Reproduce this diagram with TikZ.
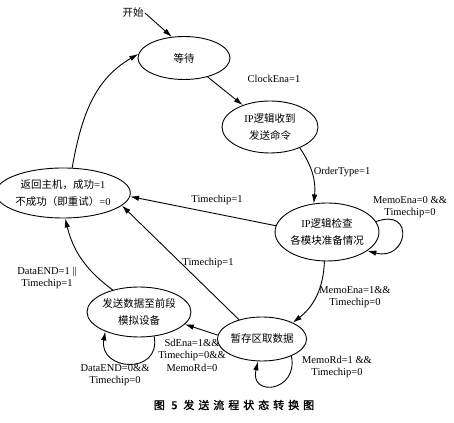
\documentclass[tikz,border=0pt]{standalone}
\usepackage{fontspec}
\setmainfont{Liberation Serif}
\newfontfamily\cjk{Noto Sans CJK SC}
\newfontfamily\cjkcap[LetterSpace=36,FakeBold=1.5]{Noto Sans CJK SC}
\usetikzlibrary{arrows.meta,shapes.geometric}

\begin{document}
\begin{tikzpicture}[x=1pt, y=1pt, line width=0.9pt,
    state/.style={draw, ellipse, inner sep=0pt, align=center,
        font=\cjk\fontsize{10.5}{17}\selectfont},
    lab/.style={align=center, inner sep=1pt, font=\fontsize{10.5}{12.5}\selectfont},
    trans/.style={-{Latex[length=9pt,width=5.5pt]}}]
    \useasboundingbox (0,0) rectangle (454,422);

    % States
    \node[state, minimum width=92, minimum height=43] (wait) at (184,364) {等待};
    \node[state, minimum width=96, minimum height=52] (recv) at (270,295)
        {\textrm{IP}逻辑收到\\发送命令};
    \node[state, minimum width=114, minimum height=50] (ret) at (63,229)
        {返回主机，成功\textrm{=1}\\不成功（即重试）\textrm{=0}};
    \node[state, minimum width=94, minimum height=58] (check) at (327,190)
        {\textrm{IP}逻辑检查\\各模块准备情况};
    \node[state, minimum width=84, minimum height=44] (buf) at (262,83) {暂存区取数据};
    \node[state, minimum width=94, minimum height=50] (send) at (139,110)
        {发送数据至前段\\模拟设备};

    % Start
    \node[font=\cjk\fontsize{10.5}{12}\selectfont, inner sep=1pt] (start) at (133,409) {开始};
    \draw[trans] (start.east) -- (wait.120);

    % Transitions
    \draw[trans] (wait) -- (recv);
    \draw[trans] (recv.-35) to[bend left=20] (check.115);
    \draw[trans] (check.12) to[out=20, in=-15, distance=42pt] (check.-25);
    \draw[trans] (check.173) -- (ret.-3);
    \draw[trans] (check.-95) to[bend left=25] (buf.28);
    \draw[trans] (buf.140) -- (ret.-12);
    \draw[trans] (buf.175) -- (send.-15);
    \draw[trans] (buf.-30) to[out=-79, in=-104, distance=37pt] (buf.-100);
    \draw[trans] (send.-58) to[out=-80, in=-100, distance=40pt] (send.-150);
    \draw[trans] (send.140) to[bend left=20] (ret.-85);
    \draw[trans] (ret.70) to[out=80, in=210] (wait.175);

    % Conditions
    \node[lab] (l1) at (274,343) {ClockEna=1};
    \node[lab] (l2) at (342,250) {OrderType=1};
    \node[lab] (l3) at (410,215) {MemoEna=0 \&\&\\Timechip=0};
    \node[lab] (l4) at (217,222) {Timechip=1};
    \node[lab] (l5) at (208,159) {Timechip=1};
    \node[lab] (l6) at (47,144) {DataEND=1 ||\\Timechip=1};
    \node[lab] (l7) at (355,125) {MemoEna=1\&\&\\Timechip=0};
    \node[lab] (l8) at (192,67) {SdEna=1\&\&\\Timechip=0\&\&\\MemoRd=0};
    \node[lab] (l9) at (337,55) {MemoRd=1 \&\&\\Timechip=0};
    \node[lab] (l10) at (115,47) {DataEND=0\&\&\\Timechip=0};

    % Caption
    \node[font=\cjkcap\fontsize{11}{13}\selectfont] (cap) at (234,17) {图 5\hspace{6pt}发送流程状态转换图};
\end{tikzpicture}
\end{document}
